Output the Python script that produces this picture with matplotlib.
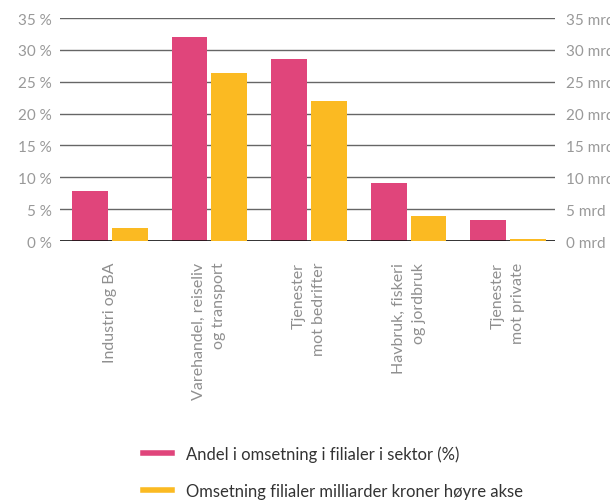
import matplotlib
matplotlib.use("Agg")
import matplotlib.pyplot as plt
from matplotlib.lines import Line2D
import numpy as np

categories = ["Industri og BA", "Varehandel, reiseliv\nog transport", "Tjenester\nmot bedrifter",
              "Havbruk, fiskeri\nog jordbruk", "Tjenester\nmot private"]
andel_pct = [7.8, 32.0, 28.5, 9.1, 3.3]
omsetning_mrd = [2.0, 26.3, 21.9, 3.9, 0.3]
left_ticks = [0, 5, 10, 15, 20, 25, 30, 35]
left_labels = [f"{v} %" for v in left_ticks]
right_labels = [f"{v} mrd" for v in left_ticks]
legend_labels = ["Andel i omsetning i filialer i sektor (%)",
                 "Omsetning filialer milliarder kroner høyre akse"]

PINK = "#E0457B"
YELLOW = "#FBBA22"
TICK_C = "#999999"

plt.rcParams['font.family'] = ['Lato', 'DejaVu Sans']

W, H = 610, 502
fig = plt.figure(figsize=(W / 100, H / 100), dpi=100)
ax = fig.add_axes([60 / W, (H - 242) / H, 495 / W, 223 / H])
ax2 = ax.twinx()

x = np.arange(len(categories))
bw = 0.36
off = 0.2
ax.bar(x - off, andel_pct, width=bw, color=PINK, zorder=3)
ax2.bar(x + off, omsetning_mrd, width=bw, color=YELLOW, zorder=3)

for a in (ax, ax2):
    a.set_ylim(0, 35)
    a.set_xlim(-0.5, 4.47)
    for s in a.spines.values():
        s.set_visible(False)
    a.set_yticks(left_ticks)

for v in left_ticks[1:]:
    ax.axhline(v, color="#666666", lw=1.0, zorder=1)
ax.axhline(0, color="#111111", lw=1.2, zorder=4)

ax.set_yticklabels(left_labels, fontsize=11, color=TICK_C)
ax2.set_yticklabels(right_labels, fontsize=11, color=TICK_C)
ax.tick_params(axis="y", length=0, pad=6)
ax2.tick_params(axis="y", length=0, pad=8)
ax.set_xticks(x)
ax.set_xticklabels([])
ax.tick_params(axis="x", length=0)
ax2.set_xticks([])

for xi, lab in zip(x, categories):
    ax.annotate(lab, xy=(xi, 0), xycoords="data", xytext=(0, -15), textcoords="offset points",
                rotation=90, ha="center", va="top", multialignment="right", linespacing=1.55,
                fontsize=11.5, color="#8f8f8f", annotation_clip=False)

handles = [Line2D([0], [0], color=PINK, lw=4), Line2D([0], [0], color=YELLOW, lw=4)]
fig.legend(handles, legend_labels, loc="upper left", bbox_to_anchor=(143 / W, (H - 446) / H),
           frameon=False, fontsize=12, handlelength=1.75, handletextpad=0.8, labelspacing=1.3,
           borderpad=0, borderaxespad=0, labelcolor="#333333")

fig.savefig("out.png", dpi=100)
